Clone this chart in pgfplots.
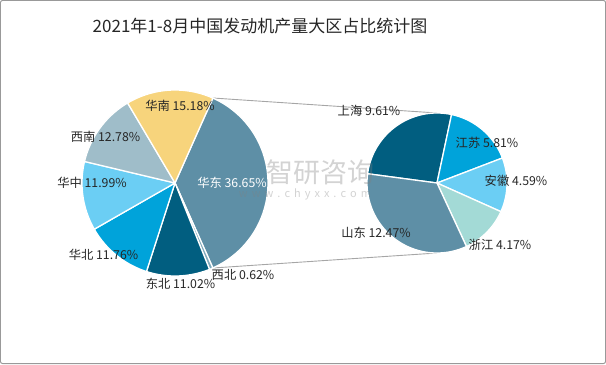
\documentclass[border=0pt]{standalone}
\usepackage{fontspec}
\setmainfont{Noto Sans CJK SC}
\usepackage{pgfplots}
\usepackage{pgfplotstable}
\pgfplotsset{compat=1.18}

\definecolor{cHD}{HTML}{5E8FA6}
\definecolor{cXB}{HTML}{7FA9BB}
\definecolor{cDB}{HTML}{015E80}
\definecolor{cHB}{HTML}{00A3DA}
\definecolor{cHZ}{HTML}{6BCEF4}
\definecolor{cXN}{HTML}{9FBDC9}
\definecolor{cHN}{HTML}{F7D47C}
\definecolor{cZJ}{HTML}{A3DAD6}
\definecolor{txt}{HTML}{262626}

\tikzset{lbl/.style={inner sep=0pt,text=txt,font=\fontsize{12.3bp}{13bp}\selectfont}}

% left pie: share of each region (%)
\pgfplotstableread{
name value color
华东 36.65 cHD
西北 0.62  cXB
东北 11.02 cDB
华北 11.76 cHB
华中 11.99 cHZ
西南 12.78 cXN
华南 15.18 cHN
}\leftdata

% right pie: breakdown of 华东 (%)
\pgfplotstableread{
name value color
上海 9.61  cDB
江苏 5.81  cHB
安徽 4.59  cHZ
浙江 4.17  cZJ
山东 12.47 cHD
}\rightdata

\newcommand\pieinit[4]{\xdef\cx{#1}\xdef\cy{#2}\xdef\rr{#3}\xdef\curangle{#4}}
\newcommand\pieslice[3]{%
  \pgfmathsetmacro\sa{\curangle}%
  \pgfmathsetmacro\sb{\curangle-#1*#2}%
  \edef\tmp{\noexpand\addplot[fill=#3,draw=white,line width=1.3bp,line join=round,domain=\sb:\sa,samples=60] ({\cx+\rr*cos(x)},{\cy+\rr*sin(x)}) -- (axis cs:\cx,\cy) -- cycle;}%
  \tmp
  \xdef\curangle{\sb}%
}
\newcommand\drawpie[2]{% table, degrees per unit
  \pgfplotstablegetrowsof{#1}%
  \pgfmathtruncatemacro\nrows{\pgfplotsretval-1}%
  \foreach \i in {0,...,\nrows}{%
    \pgfplotstablegetelem{\i}{value}\of#1\let\vv\pgfplotsretval
    \pgfplotstablegetelem{\i}{color}\of#1\let\cc\pgfplotsretval
    \pieslice{\vv}{#2}{\cc}%
  }%
}

\begin{document}
\begin{tikzpicture}
\begin{axis}[x=1bp,y=1bp,xmin=0,xmax=606,ymin=0,ymax=364,
  scale only axis,hide axis,clip=false]
% frame
\draw[color=black!40,line width=1bp,rounded corners=2bp] (axis cs:0.5,0.5) rectangle (axis cs:605.5,363.5);
% connector lines
\addplot[color=black!35,line width=0.9bp] coordinates {(212.8,266) (437,251)};
\addplot[color=black!35,line width=0.9bp] coordinates {(212.8,96) (437,111)};
% pies
\pieinit{175}{181}{93}{65.97}
\drawpie{\leftdata}{3.6}
\pieinit{437}{181}{70}{172.4}
\drawpie{\rightdata}{9.8226}
% title
\node[lbl,font=\fontsize{17bp}{19bp}\selectfont] at (axis cs:260,338) {2021年1-8月中国发动机产量大区占比统计图};
% watermark
\node[lbl,text=gray,opacity=0.35,font=\fontsize{27bp}{29bp}\selectfont] at (axis cs:320,192) {智研咨询};
\node[lbl,text=gray,opacity=0.35,font=\fontsize{11bp}{12bp}\selectfont] at (axis cs:305,170) {w\hspace{4bp}w\hspace{4bp}w\hspace{4bp}.\hspace{4bp}c\hspace{4bp}h\hspace{4bp}y\hspace{4bp}x\hspace{4bp}x\hspace{4bp}.\hspace{4bp}c\hspace{4bp}o\hspace{4bp}m};
% labels
\node[lbl] at (axis cs:180,258) {华南 15.18\%};
\node[lbl] at (axis cs:105.5,227.3) {西南 12.78\%};
\node[lbl] at (axis cs:92,181) {华中 11.99\%};
\node[lbl] at (axis cs:103.5,109) {华北 11.76\%};
\node[lbl] at (axis cs:180.5,80) {东北 11.02\%};
\node[lbl] at (axis cs:243,89) {西北 0.62\%};
\node[lbl,text=white] at (axis cs:232,181.5) {华东 36.65\%};
\node[lbl] at (axis cs:369,253) {上海 9.61\%};
\node[lbl] at (axis cs:487,221) {江苏 5.81\%};
\node[lbl] at (axis cs:516,183) {安徽 4.59\%};
\node[lbl] at (axis cs:500,119) {浙江 4.17\%};
\node[lbl] at (axis cs:376,131) {山东 12.47\%};
\end{axis}
\end{tikzpicture}
\end{document}
